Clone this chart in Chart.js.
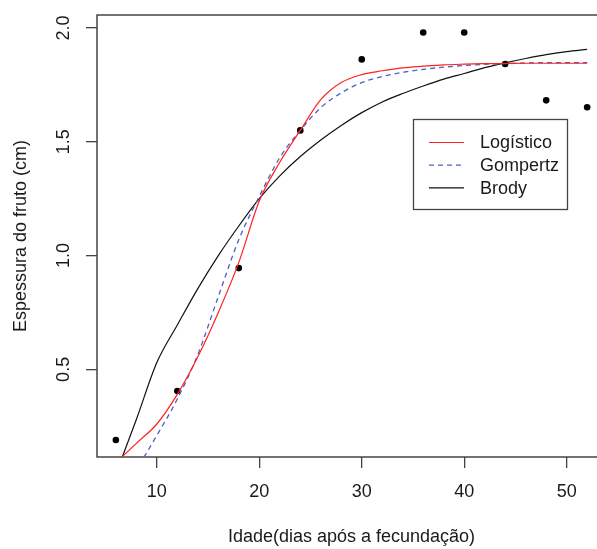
<!DOCTYPE html>
<html>
<head>
<meta charset="utf-8">
<script src="https://cdn.jsdelivr.net/npm/chart.js@4"></script>
<style>
  html, body { margin: 0; padding: 0; background: #fff; overflow: hidden; }
  #wrap { position: relative; width: 610px; height: 549px; }
</style>
</head>
<body>
<div id="wrap"><canvas id="grafico"></canvas></div>
<script>
// observed values
const idade = [6, 12, 18, 24, 30, 36, 40, 44, 48, 52];
const espessura = [0.19, 0.405, 0.945, 1.55, 1.862, 1.98, 1.98, 1.842, 1.682, 1.652];

// fitted curves
const xCurva = [6, 8, 10, 12, 14, 16, 18, 20, 22, 24, 26, 28, 30, 32, 34, 36, 38, 40, 42, 44, 46, 48, 50, 52];
const logistico = [0.09, 0.175, 0.26, 0.39, 0.555, 0.75, 0.97, 1.24, 1.41, 1.55, 1.685, 1.76, 1.795, 1.812, 1.825, 1.832, 1.838, 1.841, 1.843, 1.844, 1.845, 1.845, 1.845, 1.845];
const gompertz = [0.02, 0.07, 0.21, 0.37, 0.565, 0.82, 1.07, 1.26, 1.43, 1.55, 1.65, 1.715, 1.76, 1.787, 1.805, 1.818, 1.828, 1.835, 1.84, 1.843, 1.846, 1.848, 1.848, 1.848];
const brody = [0.04, 0.28, 0.53, 0.695, 0.855, 1.0, 1.13, 1.25, 1.35, 1.435, 1.508, 1.572, 1.628, 1.675, 1.712, 1.745, 1.775, 1.80, 1.826, 1.847, 1.866, 1.883, 1.896, 1.906];

const xTicks = [10, 20, 30, 40, 50];
const yTicks = [0.5, 1.0, 1.5, 2.0];

const fonte = '"Liberation Sans", Arial, sans-serif';
const corTexto = "#1a1a1a";

function pares(xs, ys) {
  return xs.map((x, i) => ({ x: x, y: ys[i] }));
}

// box around the plot region (like R's bty="o")
const caixa = {
  id: "caixa",
  beforeDatasetsDraw(chart) {
    const { ctx, chartArea: a } = chart;
    ctx.save();
    ctx.strokeStyle = "#444";
    ctx.lineWidth = 1.5;
    ctx.strokeRect(a.left, a.top, a.right - a.left, a.bottom - a.top);
    ctx.restore();
  }
};

// legend drawn inside the plot, top right
const legenda = {
  id: "legenda",
  afterDraw(chart) {
    const ctx = chart.ctx;
    const x0 = 413.5, y0 = 119.5, w = 154, h = 90;
    ctx.save();
    ctx.fillStyle = "#fff";
    ctx.fillRect(x0, y0, w, h);
    ctx.strokeStyle = "#444";
    ctx.lineWidth = 1.3;
    ctx.strokeRect(x0, y0, w, h);
    ctx.font = "18px " + fonte;
    ctx.textBaseline = "middle";
    const linhas = chart.data.datasets.filter(d => d.showLine !== false);
    linhas.forEach((d, i) => {
      const y = 142.5 + i * 22.7;
      ctx.beginPath();
      ctx.strokeStyle = d.borderColor;
      ctx.lineWidth = d.borderWidth;
      ctx.setLineDash(d.borderDash || []);
      ctx.moveTo(429, y);
      ctx.lineTo(464, y);
      ctx.stroke();
      ctx.setLineDash([]);
      ctx.fillStyle = corTexto;
      ctx.fillText(d.label, 480, y + 1);
    });
    ctx.restore();
  }
};

new Chart(document.getElementById("grafico"), {
  type: "line",
  data: {
    datasets: [
      {
        label: "Logístico",
        data: pares(xCurva, logistico),
        borderColor: "#ff2020",
        borderWidth: 1.2,
        pointRadius: 0,
        cubicInterpolationMode: "monotone"
      },
      {
        label: "Gompertz",
        data: pares(xCurva, gompertz),
        borderColor: "#4a62c4",
        borderWidth: 1.3,
        borderDash: [5, 4],
        pointRadius: 0,
        cubicInterpolationMode: "monotone"
      },
      {
        label: "Brody",
        data: pares(xCurva, brody),
        borderColor: "#111",
        borderWidth: 1.2,
        pointRadius: 0,
        cubicInterpolationMode: "monotone"
      },
      {
        label: "observado",
        data: pares(idade, espessura),
        showLine: false,
        pointRadius: 3.3,
        pointBackgroundColor: "#000",
        pointBorderWidth: 0,
        borderColor: "#000"
      }
    ]
  },
  options: {
    responsive: true,
    maintainAspectRatio: false,
    animation: false,
    layout: { padding: { top: 15, right: 4, left: 0, bottom: 0 } },
    plugins: {
      legend: { display: false },
      tooltip: { enabled: false }
    },
    scales: {
      x: {
        type: "linear",
        min: 4.16,
        max: 53.84,
        afterBuildTicks: s => { s.ticks = xTicks.map(v => ({ value: v })); },
        afterFit: s => { s.height = 92; s.paddingLeft = 0; s.paddingRight = 0; },
        border: { display: false },
        grid: { drawOnChartArea: false, drawTicks: true, tickLength: 11, color: "#444", lineWidth: 1.3 },
        ticks: { color: corTexto, font: { family: fonte, size: 18 }, padding: 13, maxRotation: 0 },
        title: {
          display: true,
          text: "Idade(dias após a fecundação)",
          color: corTexto,
          font: { family: fonte, size: 18 },
          padding: 1
        }
      },
      y: {
        min: 0.115,
        max: 2.057,
        afterBuildTicks: s => { s.ticks = yTicks.map(v => ({ value: v })); },
        afterFit: s => { s.width = 97; s.paddingTop = 0; s.paddingBottom = 0; },
        border: { display: false },
        grid: { drawOnChartArea: false, drawTicks: true, tickLength: 11, color: "#444", lineWidth: 1.3 },
        ticks: {
          color: corTexto,
          font: { family: fonte, size: 18 },
          minRotation: 90,
          maxRotation: 90,
          crossAlign: "center",
          padding: 9,
          callback: v => v.toFixed(1)
        },
        title: {
          display: true,
          text: "Espessura do fruto (cm)",
          color: corTexto,
          font: { family: fonte, size: 18 },
          padding: 10
        }
      }
    }
  },
  plugins: [caixa, legenda]
});
</script>
</body>
</html>
